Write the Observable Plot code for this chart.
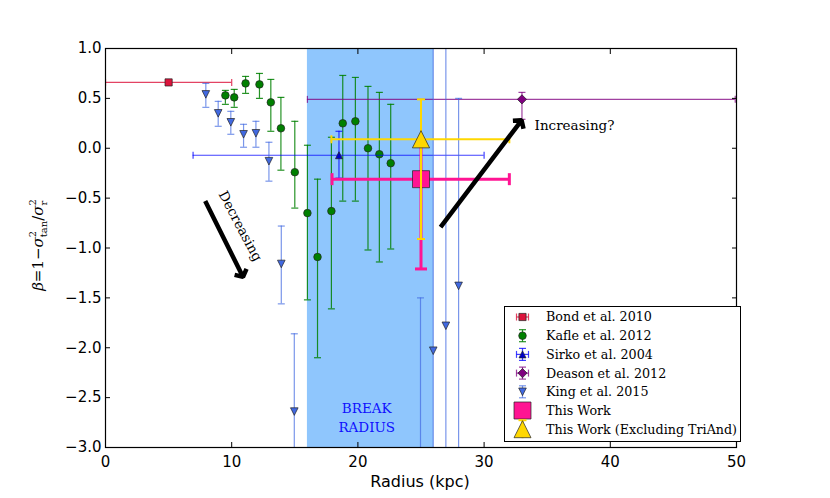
<!DOCTYPE html>
<html><head><meta charset="utf-8">
<script src="https://cdn.jsdelivr.net/npm/d3@7"></script>
<script src="https://cdn.jsdelivr.net/npm/@observablehq/plot@0.6"></script>
<style>body{margin:0;background:#fff}#chart{position:relative;width:830px;height:498px}</style>
</head><body><div id="chart"></div>
<script>
// ---------- data ----------
const xTicks = [0, 10, 20, 30, 40, 50];
const yTicks = [-3, -2.5, -2, -1.5, -1, -0.5, 0, 0.5, 1];
const breakBand = [16, 26];

const bondR = [5.0], bondBeta = [0.66], bondRLo = [0.0], bondRHi = [10.0];

const kafleR    = [9.5, 10.2, 11.1, 12.2, 13.1, 13.9, 15.0, 16.0, 16.8, 17.9, 18.8, 19.8, 20.8, 21.7, 22.6];
const kafleBeta = [0.53, 0.51, 0.65, 0.64, 0.46, 0.20, -0.24, -0.65, -1.09, -0.63, 0.25, 0.27, 0.00, -0.06, -0.15];
const kafleBHi  = [0.58, 0.59, 0.72, 0.75, 0.69, 0.51, 0.27, 0.03, -0.31, 0.11, 0.73, 0.71, 0.62, 0.56, 0.44];
const kafleBLo  = [0.44, 0.41, 0.55, 0.50, 0.17, -0.22, -0.60, -1.52, -2.10, -1.61, -0.53, -0.53, -1.02, -1.14, -1.01];

const sirkoR = [18.5], sirkoBeta = [-0.07], sirkoRLo = [6.94], sirkoRHi = [30.0], sirkoBLo = [-0.30], sirkoBHi = [0.17];

const deasonR = [33.0], deasonBeta = [0.49], deasonRLo = [16.0], deasonRHi = [49.9], deasonBLo = [0.29], deasonBHi = [0.56];

const kingR    = [7.95, 8.93, 9.93, 10.94, 11.92, 12.95, 13.93, 14.96, 24.96, 25.97, 26.97, 27.98];
const kingBeta = [0.54, 0.35, 0.26, 0.14, 0.15, -0.13, -1.16, -2.64, -3.60, -2.03, -1.78, -1.38];
const kingBHi  = [0.65, 0.47, 0.37, 0.24, 0.27, 0.06, -0.78, -1.86, -1.50, 1.20, 1.20, 0.50];
const kingBLo  = [0.41, 0.22, 0.14, 0.01, 0.01, -0.33, -1.56, -3.50, -5.70, -5.30, -4.00, -3.30];

const thisR = [25.0], thisBeta = [-0.31], thisRLo = [17.95], thisRHi = [32.0], thisBLo = [-1.21], thisBHi = [0.05];
const exclR = [25.0], exclBeta = [0.09], exclRLo = [17.9], exclRHi = [32.0], exclBLo = [-0.91], exclBHi = [0.49];

const arrowR1 = [7.9, 26.55], arrowB1 = [-0.53, -0.79], arrowR2 = [10.9, 32.97], arrowB2 = [-1.29, 0.28];

const noteText = ["Decreasing", "Increasing?"];
const noteR = [10.67, 34.0], noteBeta = [-0.78, 0.23], noteRotate = [62, 0], noteAnchor = ["middle", "start"];
const breakText = ["BREAK", "RADIUS"], breakR = [20.7, 20.7], breakBeta = [-2.61, -2.80];

const legendLabels = ["Bond et al. 2010", "Kafle et al. 2012", "Sirko et al. 2004", "Deason et al. 2012",
  "King et al. 2015", "This Work", "This Work (Excluding TriAnd)"];

// ---------- symbols ----------
const sym = fn => ({draw(c, size) { const r = Math.sqrt(size / Math.PI); fn(c, r); }});
const hcap = sym((c, r) => { c.moveTo(-r, 0); c.lineTo(r, 0); });
const vcap = sym((c, r) => { c.moveTo(0, -r); c.lineTo(0, r); });
const sSquare = sym((c, r) => { c.moveTo(-r, -r); c.lineTo(r, -r); c.lineTo(r, r); c.lineTo(-r, r); c.closePath(); });
const sCircle = sym((c, r) => { c.moveTo(r, 0); c.arc(0, 0, r, 0, 2 * Math.PI); c.closePath(); });
const sUp = sym((c, r) => { c.moveTo(0, -r); c.lineTo(r, r); c.lineTo(-r, r); c.closePath(); });
const sDown = sym((c, r) => { c.moveTo(0, r); c.lineTo(-r, -r); c.lineTo(r, -r); c.closePath(); });
const sDiamond = sym((c, r) => { c.moveTo(0, -r); c.lineTo(r, 0); c.lineTo(0, r); c.lineTo(-r, 0); c.closePath(); });

function table(r, b, o = {}) {
  return r.map((v, i) => ({r: v, b: b[i],
    rlo: o.rlo ? o.rlo[i] : null, rhi: o.rhi ? o.rhi[i] : null,
    blo: o.blo ? o.blo[i] : null, bhi: o.bhi ? o.bhi[i] : null}));
}

const styles = [
  {color: "#dc143c", op: 0.8, w: 1.2, cap: 3.5, sym: sSquare, r: 3.6, fill: "#dc143c"},
  {color: "#008000", op: 0.85, w: 1.2, cap: 3.5, sym: sCircle, r: 3.8, fill: "#008000"},
  {color: "#0000ff", op: 0.75, w: 1.2, cap: 3.5, sym: sUp, r: 3.5, fill: "#0000cc"},
  {color: "#800080", op: 0.75, w: 1.2, cap: 3.5, sym: sDiamond, r: 4.6, fill: "#800080"},
  {color: "#4169e1", op: 0.7, w: 1.2, cap: 3.5, sym: sDown, r: 3.8, fill: "#4169e1"},
  {color: "#ff1493", op: 1, w: 3, cap: 6, sym: sSquare, r: 8.5, fill: "#ff1493"},
  {color: "#ffd700", op: 1, w: 2, cap: 4, sym: sUp, r: 8.6, fill: "#ffd700"}
];

function errMarks(data, s) {
  const m = [];
  const base = {stroke: s.color, strokeOpacity: s.op, strokeWidth: s.w, clip: true};
  const cap = {...base, fill: "none", r: s.cap};
  const hx = data.filter(d => d.rlo != null);
  const vy = data.filter(d => d.blo != null);
  if (hx.length) {
    m.push(Plot.ruleY(hx, {y: "b", x1: "rlo", x2: "rhi", ...base}));
    m.push(Plot.dot(hx, {x: "rlo", y: "b", symbol: vcap, ...cap}));
    m.push(Plot.dot(hx, {x: "rhi", y: "b", symbol: vcap, ...cap}));
  }
  if (vy.length) {
    m.push(Plot.ruleX(vy, {x: "r", y1: "blo", y2: "bhi", ...base}));
    m.push(Plot.dot(vy, {x: "r", y: "blo", symbol: hcap, ...cap}));
    m.push(Plot.dot(vy, {x: "r", y: "bhi", symbol: hcap, ...cap}));
  }
  m.push(Plot.dot(data, {x: "r", y: "b", symbol: s.sym, r: s.r, fill: s.fill, stroke: "#222", strokeWidth: 0.7, clip: true}));
  return m;
}

const sets = [
  table(bondR, bondBeta, {rlo: bondRLo, rhi: bondRHi}),
  table(kafleR, kafleBeta, {blo: kafleBLo, bhi: kafleBHi}),
  table(sirkoR, sirkoBeta, {rlo: sirkoRLo, rhi: sirkoRHi, blo: sirkoBLo, bhi: sirkoBHi}),
  table(deasonR, deasonBeta, {rlo: deasonRLo, rhi: deasonRHi, blo: deasonBLo, bhi: deasonBHi}),
  table(kingR, kingBeta, {blo: kingBLo, bhi: kingBHi}),
  table(thisR, thisBeta, {rlo: thisRLo, rhi: thisRHi, blo: thisBLo, bhi: thisBHi}),
  table(exclR, exclBeta, {rlo: exclRLo, rhi: exclRHi, blo: exclBLo, bhi: exclBHi})
];

const fmtY = d => (d < 0 ? "\u2212" : "") + Math.abs(d).toFixed(1);
const arrows = arrowR1.map((v, i) => ({x1: v, y1: arrowB1[i], x2: arrowR2[i], y2: arrowB2[i]}));
const notes = noteText.map((t, i) => ({t, r: noteR[i], b: noteBeta[i], rot: noteRotate[i], a: noteAnchor[i]}));
const breakNotes = breakText.map((t, i) => ({t, r: breakR[i], b: breakBeta[i]}));

const plot = Plot.plot({
  width: 830, height: 498,
  marginLeft: 105, marginRight: 94, marginTop: 48, marginBottom: 51,
  style: {fontFamily: "DejaVu Sans", background: "white", overflow: "visible"},
  x: {domain: [0, 50]},
  y: {domain: [-3, 1]},
  marks: [
    Plot.rect([breakBand], {x1: d => d[0], x2: d => d[1], fill: "#8fc6fd"}),
    ...sets.flatMap((d, i) => errMarks(d, styles[i])),
    Plot.arrow(arrows, {x1: "x1", y1: "y1", x2: "x2", y2: "y2", stroke: "black", strokeWidth: 4.5, headLength: 2.9, headAngle: 100, strokeLinejoin: "miter", strokeLinecap: "butt"}),
    Plot.text(notes.filter(d => d.a === "middle"), {x: "r", y: "b", text: "t", rotate: 62, fontFamily: "DejaVu Serif", fontSize: 13.5, fill: "black"}),
    Plot.text(notes.filter(d => d.a === "start"), {x: "r", y: "b", text: "t", textAnchor: "start", fontFamily: "DejaVu Serif", fontSize: 13.5, fill: "black"}),
    Plot.text(breakNotes, {x: "r", y: "b", text: "t", fontFamily: "DejaVu Serif", fontSize: 13.5, fill: "#1010ff"}),
    Plot.frame({stroke: "black", strokeWidth: 1.2}),
    Plot.axisX({ticks: xTicks, tickSize: -5, tickPadding: 14, tickFormat: d => String(d), fontSize: 15, label: null}),
    Plot.axisX({ticks: xTicks, anchor: "top", tickSize: -5, tickFormat: () => "", label: null}),
    Plot.axisY({ticks: yTicks, tickSize: -5, tickPadding: 9, tickFormat: fmtY, fontSize: 15, label: null}),
    Plot.axisY({ticks: yTicks, anchor: "right", tickSize: -5, tickFormat: () => "", label: null})
  ]
});
document.getElementById("chart").appendChild(plot);

// ---------- labels & legend ----------
const svg = d3.select(plot);
svg.append("text").attr("x", 420).attr("y", 487).attr("text-anchor", "middle")
  .attr("font-family", "DejaVu Sans").attr("font-size", 16).attr("fill", "black").text("Radius (kpc)");

const yl = svg.append("text").attr("transform", "translate(43,245) rotate(-90)")
  .attr("text-anchor", "middle").attr("font-family", "DejaVu Serif").attr("font-size", 15).attr("fill", "black");
yl.append("tspan").attr("font-style", "italic").text("\u03B2");
yl.append("tspan").text("=1\u2212");
yl.append("tspan").attr("font-style", "italic").text("\u03C3");
yl.append("tspan").attr("font-size", 10).attr("dy", -7).text("2");
yl.append("tspan").attr("font-size", 10).attr("dx", -6.4).attr("dy", 11).text("tan");
yl.append("tspan").attr("dy", -4).text("/");
yl.append("tspan").attr("font-style", "italic").text("\u03C3");
yl.append("tspan").attr("font-size", 10).attr("dy", -7).text("2");
yl.append("tspan").attr("font-size", 10).attr("dx", -6.4).attr("dy", 11).text("r");

const lg = svg.append("g").attr("transform", "translate(504.5,306.5)");
lg.append("rect").attr("width", 236).attr("height", 135).attr("fill", "white").attr("stroke", "black").attr("stroke-width", 1);
const pathOf = (s, r) => d3.symbol(s, r * r * Math.PI)();
legendLabels.forEach((label, i) => {
  const s = styles[i];
  const cy = 10.5 + i * 18.7, cx = 18;
  const g = lg.append("g").attr("transform", `translate(${cx},${cy})`);
  const ln = (x1, y1, x2, y2) => g.append("line").attr("x1", x1).attr("y1", y1).attr("x2", x2).attr("y2", y2)
      .attr("stroke", s.color).attr("stroke-opacity", s.op).attr("stroke-width", s.w);
  const big = i >= 5;
  const hasX = [0, 2, 3].includes(i), hasY = [1, 2, 3, 4].includes(i);
  if (hasX) { ln(-6, 0, 6, 0); ln(-6, -3.5, -6, 3.5); ln(6, -3.5, 6, 3.5); }
  if (hasY) { ln(0, -6, 0, 6); ln(-3.5, -6, 3.5, -6); ln(-3.5, 6, 3.5, 6); }
  if (i === 6) { ln(0, -9, 0, 9); ln(-4, -9, 4, -9); }
  g.append("path").attr("d", pathOf(s.sym, big ? 8.5 : s.r)).attr("fill", s.fill).attr("stroke", "#222").attr("stroke-width", 0.7);
  lg.append("text").attr("x", 41.5).attr("y", cy).attr("dy", "0.35em").attr("text-anchor", "start")
    .attr("font-family", "DejaVu Serif").attr("font-size", 12.7).attr("fill", "black").text(label);
});
</script></body></html>
